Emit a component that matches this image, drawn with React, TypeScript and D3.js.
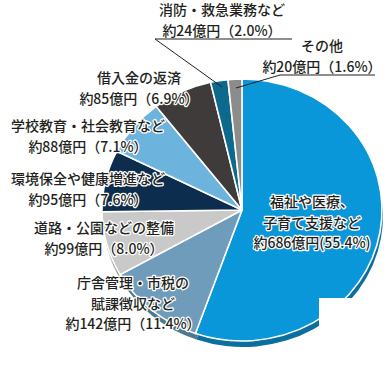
import React from "react";
import * as d3 from "d3";

const categories = [
  "福祉や医療、子育て支援など",
  "庁舎管理・市税の賦課徴収など",
  "道路・公園などの整備",
  "環境保全や健康増進など",
  "学校教育・社会教育など",
  "借入金の返済",
  "消防・救急業務など",
  "その他",
];
const nameLines = [
  ["福祉や医療、", "子育て支援など"],
  ["庁舎管理・市税の", "賦課徴収など"],
  ["道路・公園などの整備"],
  ["環境保全や健康増進など"],
  ["学校教育・社会教育など"],
  ["借入金の返済"],
  ["消防・救急業務など"],
  ["その他"],
];
const amounts = [686, 142, 99, 95, 88, 85, 24, 20];
const percents = [55.4, 11.4, 8.0, 7.6, 7.1, 6.9, 2.0, 1.6];

const colors = ["#0a97d9", "#6f9cbb", "#c9c9c9", "#0c2d4d", "#6cb3dd", "#403b3b", "#0d6a8c", "#8c8c8c"];
const rimColors = ["#0a6f9f", "#4e7890", "#9a9a9a", "#08203a", "#4f89aa", "#2c2828", "#0a4f68", "#666666"];

// label layout: center x, first line center y
const labelPos: [number, number][] = [
  [312, 201],
  [133, 282],
  [104, 227],
  [88, 178],
  [88, 125],
  [139, 77],
  [222, 9],
  [322, 45],
];

const W = 391;
const H = 368;
const cx = 242;
const cy = 210;
const R = 140;
const ry = 131;
const lineH = 20.5;

export default function App() {
  const pie = d3.pie<number>().sort(null).value((d) => d);
  const arcs = pie(percents);
  const arc = d3.arc<d3.PieArcDatum<number>>().innerRadius(0).outerRadius(R);
  const sy = ry / R;

  const valueLabel = (i: number) =>
    i === 0
      ? `約${amounts[i]}億円(${percents[i].toFixed(1)}%)`
      : `約${amounts[i]}億円（${percents[i].toFixed(1)}%）`;

  return (
    <svg
      width={W}
      height={H}
      style={{ position: "absolute", left: 0, top: 0, background: "#fff" }}
      fontFamily="'Noto Sans CJK JP', 'Noto Sans', sans-serif"
    >
      <g transform={`translate(${cx + 1},${cy + 6}) scale(1,${sy})`}>
        {arcs.map((a, i) => (
          <path key={"r" + i} d={arc(a) || ""} fill={rimColors[i]} />
        ))}
      </g>
      <g transform={`translate(${cx},${cy}) scale(1,${sy})`}>
        {arcs.map((a, i) => (
          <path
            key={"s" + i}
            d={arc(a) || ""}
            fill={colors[i]}
            stroke="#fff"
            strokeWidth={1.6}
            strokeLinejoin="round"
          >
            <title>{categories[i]}</title>
          </path>
        ))}
      </g>
      {/* labels */}
      {labelPos.map(([x, y], i) => {
        const lines = [...nameLines[i], valueLabel(i)];
        return (
          <text
            key={"t" + i}
            textAnchor="middle"
            fontSize={14}
            fontWeight={500}
            fill="#231f20"
            stroke="#fff"
            strokeWidth={2.5}
            strokeLinejoin="round"
            paintOrder="stroke"
            dominantBaseline="central"
          >
            {lines.map((l, j) => (
              <tspan key={j} x={x} y={y + j * lineH}>
                {l}
              </tspan>
            ))}
          </text>
        );
      })}
      {/* leader lines */}
      <polyline points="292,39 155,39 222,87" fill="none" stroke="#231f20" strokeWidth={1} />
      <polyline points="375,75 280,75 236,88" fill="none" stroke="#231f20" strokeWidth={1} />
      <rect x={319} y={298} width={W - 319} height={H - 298} fill="#fff" />
    </svg>
  );
}
